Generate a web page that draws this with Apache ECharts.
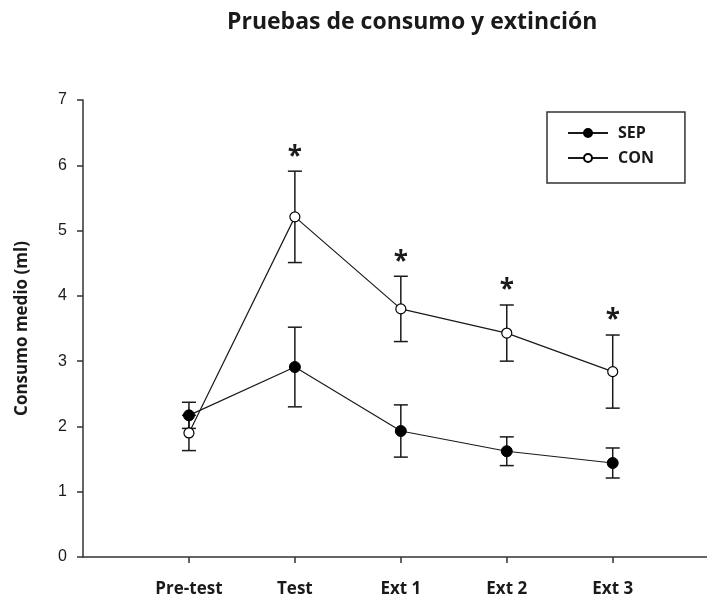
<!DOCTYPE html>
<html>
<head>
<meta charset="utf-8">
<script src="https://cdn.jsdelivr.net/npm/echarts@6/dist/echarts.min.js"></script>
<style>
  html, body { margin: 0; padding: 0; background: #fff; }
  #main { width: 707px; height: 597px; }
</style>
</head>
<body>
<div id="main"></div>
<script>
// datos
var categories = ['Pre-test', 'Test', 'Ext 1', 'Ext 2', 'Ext 3']
var sepMean = [2.17, 2.91, 1.93, 1.62, 1.44]
var sepErr = [0.20, 0.61, 0.40, 0.22, 0.23]
var conMean = [1.90, 5.21, 3.80, 3.43, 2.84]
var conErr = [0.27, 0.70, 0.50, 0.43, 0.56]
var significant = [0, 1, 1, 1, 1]  // asterisco sobre CON
var yTicks = [0, 1, 2, 3, 4, 5, 6, 7]

var boldFont = '"Open Sans", "DejaVu Sans", sans-serif'
var ink = '#1a1a1a'

function points(vals) {
  return vals.map(function (v, i) { return [i + 1, v] })
}
function errRows(mean, err) {
  return mean.map(function (m, i) { return [i + 1, m - err[i], m + err[i]] })
}

function renderErr(params, api) {
  var x = api.value(0)
  var lo = api.coord([x, api.value(1)])
  var hi = api.coord([x, api.value(2)])
  var w = 7
  var st = { stroke: ink, lineWidth: 1.5 }
  return {
    type: 'group',
    children: [
      { type: 'line', shape: { x1: hi[0], y1: hi[1], x2: lo[0], y2: lo[1] }, style: st },
      { type: 'line', shape: { x1: hi[0] - w, y1: hi[1], x2: hi[0] + w, y2: hi[1] }, style: st },
      { type: 'line', shape: { x1: lo[0] - w, y1: lo[1], x2: lo[0] + w, y2: lo[1] }, style: st }
    ]
  }
}

function renderStar(params, api) {
  var p = api.coord([api.value(0), api.value(1)])
  return {
    type: 'text',
    style: {
      x: p[0], y: p[1] - 14,
      text: '*',
      fill: ink,
      font: 'bold 26px ' + boldFont,
      textAlign: 'center',
      textVerticalAlign: 'middle'
    }
  }
}

var starData = []
significant.forEach(function (s, i) {
  if (s) starData.push([i + 1, conMean[i] + conErr[i]])
})

var chart = echarts.init(document.getElementById('main'), null, { renderer: 'canvas' })

var option = {
  animation: false,
  backgroundColor: '#fff',
  title: {
    text: 'Pruebas de consumo y extinción',
    left: 222,
    top: 6,
    textStyle: { fontFamily: boldFont, fontSize: 23, fontWeight: 'bold', color: ink }
  },
  legend: {
    orient: 'vertical',
    left: 547,
    top: 112,
    padding: [13, 31, 17, 20],
    itemGap: 9,
    itemWidth: 40,
    itemHeight: 10,
    borderColor: '#333',
    borderWidth: 1.5,
    data: ['SEP', 'CON'],
    textStyle: { fontFamily: boldFont, fontSize: 16, fontWeight: 'bold', color: ink, padding: [0, 0, 0, 5] }
  },
  grid: { left: 83, top: 100, bottom: 40, right: 0, outerBoundsMode: 'none' },
  xAxis: {
    type: 'value',
    min: 0,
    max: 5.89,
    splitLine: { show: false },
    axisLine: { lineStyle: { color: '#333', width: 1.5 } },
    axisTick: { customValues: [1, 2, 3, 4, 5], length: 6, lineStyle: { color: '#333', width: 1.5 } },
    axisLabel: {
      customValues: [1, 2, 3, 4, 5],
      margin: 24,
      fontFamily: boldFont,
      fontSize: 17,
      fontWeight: 'bold',
      color: ink,
      formatter: function (v) { return categories[v - 1] || '' }
    }
  },
  yAxis: {
    type: 'value',
    min: yTicks[0],
    max: yTicks[yTicks.length - 1],
    interval: 1,
    name: 'Consumo medio (ml)',
    nameLocation: 'middle',
    nameGap: 52,
    nameTextStyle: { fontFamily: boldFont, fontSize: 17, fontWeight: 'bold', color: ink },
    splitLine: { show: false },
    axisLine: { show: true, lineStyle: { color: '#333', width: 1.5 } },
    axisTick: { show: true, length: 6, lineStyle: { color: '#333', width: 1.5 } },
    axisLabel: { margin: 16, fontFamily: '"Liberation Sans", Arial, sans-serif', fontSize: 16, color: ink }
  },
  series: [
    {
      type: 'custom',
      name: 'errSEP',
      renderItem: renderErr,
      data: errRows(sepMean, sepErr),
      z: 1,
      silent: true
    },
    {
      type: 'custom',
      name: 'errCON',
      renderItem: renderErr,
      data: errRows(conMean, conErr),
      z: 1,
      silent: true
    },
    {
      type: 'line',
      name: 'SEP',
      data: points(sepMean),
      symbol: 'circle',
      symbolSize: 11,
      lineStyle: { color: ink, width: 1.2 },
      itemStyle: { color: '#000', borderColor: '#000', borderWidth: 1 },
      z: 3
    },
    {
      type: 'line',
      name: 'CON',
      data: points(conMean),
      symbol: 'circle',
      symbolSize: 10,
      lineStyle: { color: ink, width: 1.2 },
      itemStyle: { color: '#fff', borderColor: '#000', borderWidth: 1.2 },
      z: 4
    },
    {
      type: 'custom',
      name: 'sig',
      renderItem: renderStar,
      data: starData,
      z: 5,
      silent: true
    }
  ]
}

chart.setOption(option)
</script>
</body>
</html>
